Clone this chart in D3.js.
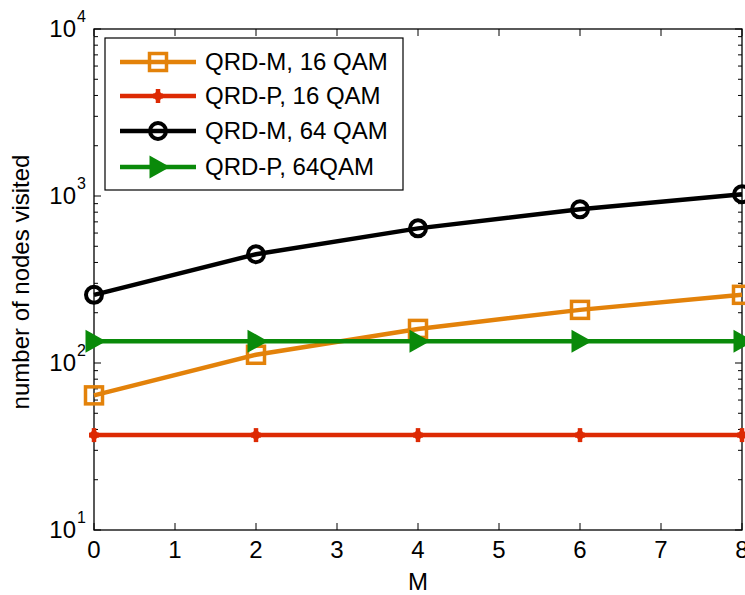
<!DOCTYPE html>
<html>
<head>
<meta charset="utf-8">
<script src="https://cdn.jsdelivr.net/npm/d3@7"></script>
<style>
  html, body { margin: 0; padding: 0; background: #fff; }
  svg text { font-family: "Liberation Sans", Arial, sans-serif; fill: #000; }
</style>
</head>
<body>
<svg id="chart" width="745" height="595"></svg>
<script>
// Number of nodes visited versus M, for QRD-M and QRD-P detectors
const mValues = [0, 2, 4, 6, 8];
const qrdM16 = [64, 112, 160, 208, 256];
const qrdP16 = [37, 37, 37, 37, 37];
const qrdM64 = [256, 448, 640, 832, 1024];
const qrdP64 = [135, 135, 135, 135, 135];
const seriesNames = ["QRD-M, 16 QAM", "QRD-P, 16 QAM", "QRD-M, 64 QAM", "QRD-P, 64QAM"];
const xTicks = [0, 1, 2, 3, 4, 5, 6, 7, 8];
const yDecades = [1, 2, 3, 4];

const svg = d3.select("#chart");
const plotL = 94, plotR = 742, plotT = 29, plotB = 530;
const fs = 24;

const x = d3.scaleLinear().domain([0, 8]).range([plotL, plotR]);
const y = d3.scaleLog().domain([10, 10000]).range([plotB, plotT]);

// frame
svg.append("rect").attr("x", plotL).attr("y", plotT)
  .attr("width", plotR - plotL).attr("height", plotB - plotT)
  .attr("fill", "none").attr("stroke", "#000").attr("stroke-width", 1.3);

// x ticks (bottom and top, pointing inward)
const tickG = svg.append("g").attr("stroke", "#000").attr("stroke-width", 1);
xTicks.forEach(t => {
  tickG.append("line").attr("x1", x(t)).attr("x2", x(t)).attr("y1", plotB).attr("y2", plotB - 7);
  tickG.append("line").attr("x1", x(t)).attr("x2", x(t)).attr("y1", plotT).attr("y2", plotT + 7);
});
// y ticks, major and minor (left and right)
for (let e = 1; e <= 4; e++) {
  const lim = e === 4 ? 1 : 9;
  for (let k = 1; k <= lim; k++) {
    const v = k * Math.pow(10, e);
    const len = k === 1 ? 7 : 4;
    tickG.append("line").attr("x1", plotL).attr("x2", plotL + len).attr("y1", y(v)).attr("y2", y(v));
    tickG.append("line").attr("x1", plotR).attr("x2", plotR - len).attr("y1", y(v)).attr("y2", y(v));
  }
}

// x tick labels
svg.append("g").selectAll("text").data(xTicks).join("text")
  .attr("x", d => x(d)).attr("y", plotB + 28)
  .attr("text-anchor", "middle").attr("font-size", fs)
  .text(d => d);

// y tick labels 10^n
const yl = svg.append("g").selectAll("g").data(yDecades).join("g")
  .attr("transform", d => `translate(0, ${y(Math.pow(10, d))})`);
yl.append("text").attr("x", 76).attr("y", 8).attr("text-anchor", "end")
  .attr("font-size", fs).text("10");
yl.append("text").attr("x", 77).attr("y", -7).attr("font-size", 16).text(d => d);

// axis titles
svg.append("text").attr("x", x(4)).attr("y", 590).attr("text-anchor", "middle")
  .attr("font-size", fs).text("M");
svg.append("text").attr("transform", `translate(29, 282) rotate(-90)`)
  .attr("text-anchor", "middle").attr("font-size", fs).text("number of nodes visited");

// marker painters
const colors = ["#E3820A", "#DD2A04", "#000000", "#0A8A0A"];
function drawMarker(g, kind, cx, cy, color) {
  if (kind === 0) {
    g.append("rect").attr("x", cx - 8.5).attr("y", cy - 8.5).attr("width", 17).attr("height", 17)
      .attr("fill", "none").attr("stroke", color).attr("stroke-width", 3.5);
  } else if (kind === 1) {
    [[0, -7, 0, 7, 4.5], [-5, 0, 5, 0, 5], [-3, -3, 3, 3, 3.5], [-3, 3, 3, -3, 3.5]].forEach(s => {
      g.append("line").attr("x1", cx + s[0]).attr("y1", cy + s[1]).attr("x2", cx + s[2]).attr("y2", cy + s[3])
        .attr("stroke", color).attr("stroke-width", s[4]);
    });
  } else if (kind === 2) {
    g.append("circle").attr("cx", cx).attr("cy", cy).attr("r", 8)
      .attr("fill", "none").attr("stroke", color).attr("stroke-width", 4);
  } else {
    g.append("path").attr("d", `M${cx - 7},${cy - 9} L${cx + 9},${cy} L${cx - 7},${cy + 9} Z`)
      .attr("fill", color).attr("stroke", color).attr("stroke-width", 3).attr("stroke-linejoin", "miter");
  }
}

const allSeries = [qrdM16, qrdP16, qrdM64, qrdP64];
const line = d3.line().x((d, i) => x(mValues[i])).y(d => y(d));
allSeries.forEach((vals, si) => {
  const g = svg.append("g");
  g.append("path").datum(vals).attr("d", line).attr("fill", "none")
    .attr("stroke", colors[si]).attr("stroke-width", 4.5);
  vals.forEach((v, i) => drawMarker(g, si, x(mValues[i]), y(v), colors[si]));
});

// legend
const lg = svg.append("g");
lg.append("rect").attr("x", 105).attr("y", 38).attr("width", 298).attr("height", 152)
  .attr("fill", "#fff").attr("stroke", "#000").attr("stroke-width", 1.2);
const legendY = [62, 96, 131, 167];
seriesNames.forEach((name, i) => {
  const g = lg.append("g");
  g.append("line").attr("x1", 120).attr("x2", 196).attr("y1", legendY[i]).attr("y2", legendY[i])
    .attr("stroke", colors[i]).attr("stroke-width", 4.5);
  drawMarker(g, i, 158, legendY[i], colors[i]);
  g.append("text").attr("x", 205).attr("y", legendY[i] + 8).attr("font-size", fs).text(name);
});
</script>
</body>
</html>
